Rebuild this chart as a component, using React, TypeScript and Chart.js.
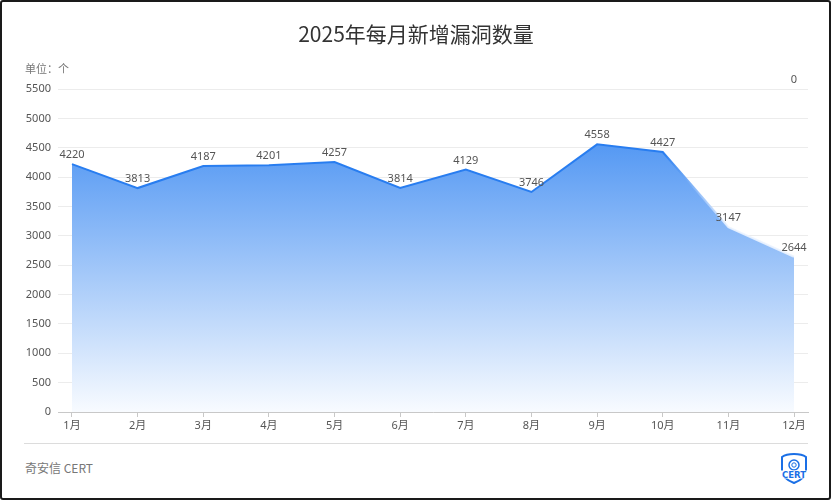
import React, { useEffect, useRef } from "react";
import { Chart, registerables } from "chart.js";

Chart.register(...registerables);

const months = ["1月", "2月", "3月", "4月", "5月", "6月", "7月", "8月", "9月", "10月", "11月", "12月"];
const counts = [4220, 3813, 4187, 4201, 4257, 3814, 4129, 3746, 4558, 4427, 3147, 2644];
const yMax = 5500;
const yStep = 500;
const extraLabel = "0";

const FONT = '"Noto Sans CJK SC", "Noto Sans", sans-serif';
const NUMFONT = '"Noto Sans", "Noto Sans CJK SC", sans-serif';

const labelPlugin = {
  id: "valueLabels",
  afterDatasetsDraw(chart: any) {
    const ctx = chart.ctx;
    const meta = chart.getDatasetMeta(0);
    ctx.save();
    ctx.font = `11px ${NUMFONT}`;
    ctx.fillStyle = "#555";
    ctx.textAlign = "center";
    ctx.textBaseline = "middle";
    meta.data.forEach((p: any, i: number) => {
      ctx.fillText(String(counts[i]), p.x, p.y - 9);
    });
    const xs = chart.scales.x;
    ctx.fillText(extraLabel, xs.getPixelForValue(months.length - 1), chart.chartArea.top - 9);
    ctx.restore();
  },
};

export default function App() {
  const ref = useRef<HTMLCanvasElement | null>(null);
  useEffect(() => {
    if (!ref.current) return;
    const chart = new Chart(ref.current, {
      type: "line",
      data: {
        datasets: [
          {
            data: counts.map((v, i) => ({ x: i, y: v })),
            borderColor: (c: any) => {
              const { chart } = c;
              const area = chart.chartArea;
              const xs = chart.scales.x;
              if (!area || !xs) return "#3584f0";
              const x0 = xs.getPixelForValue(9);
              const x1 = xs.getPixelForValue(10);
              const g = chart.ctx.createLinearGradient(x0, 0, x1, 0);
              g.addColorStop(0, "rgba(40,125,240,1)");
              g.addColorStop(1, "rgba(235,243,255,0.9)");
              return g;
            },
            borderWidth: 2,
            pointRadius: 0,
            tension: 0,
            fill: "start",
            backgroundColor: (c: any) => {
              const { chart } = c;
              const area = chart.chartArea;
              if (!area) return "rgba(80,150,242,0.6)";
              const g = chart.ctx.createLinearGradient(0, 140, 0, area.bottom);
              g.addColorStop(0, "rgb(82,151,243)");
              g.addColorStop(1, "rgb(248,251,255)");
              return g;
            },
          },
        ],
      },
      options: {
        responsive: false,
        animation: false,
        layout: { padding: { left: 0, top: 89, right: 24, bottom: 0 } },
        plugins: { legend: { display: false }, tooltip: { enabled: false }, title: { display: false } },
        scales: {
          x: {
            type: "linear",
            min: -0.213,
            max: months.length - 1 + 0.213,
            afterBuildTicks: (s: any) => {
              s.ticks = months.map((_, i) => ({ value: i }));
            },
            afterFit: (s: any) => {
              s.height = 28;
            },
            ticks: {
              autoSkip: false,
              maxRotation: 0,
              padding: 2,
              color: "#555",
              font: { family: NUMFONT, size: 11 },
              callback: (v: any) => months[v] ?? "",
            },
            grid: { drawOnChartArea: false, drawTicks: true, tickLength: 5, color: "#c8c8c8" },
            border: { display: true, color: "#c8c8c8", width: 1 },
          },
          y: {
            min: 0,
            max: yMax,
            afterFit: (s: any) => {
              s.width = 58;
            },
            ticks: {
              stepSize: yStep,
              padding: 7,
              color: "#555",
              font: { family: NUMFONT, size: 11 },
              callback: (v: any) => String(v),
            },
            grid: { color: "#ececec", drawTicks: false },
            border: { display: false },
          },
        },
      },
      plugins: [labelPlugin],
    } as any);
    return () => chart.destroy();
  }, []);

  return (
    <div>
      <canvas
        ref={ref}
        width={832}
        height={440}
        style={{ position: "absolute", left: 0, top: 0, width: 832, height: 440 }}
      />
      <div
        style={{
          position: "absolute",
          left: 0,
          top: 15,
          width: 832,
          textAlign: "center",
          fontFamily: FONT,
          fontSize: 21,
          color: "#333",
          lineHeight: "36px",
        }}
      >
        2025年每月新增漏洞数量
      </div>
      <div
        style={{
          position: "absolute",
          left: 25,
          top: 59,
          fontFamily: FONT,
          fontSize: 11,
          color: "#777",
          lineHeight: "18px",
        }}
      >
        单位：个
      </div>
      <div style={{ position: "absolute", left: 24, top: 443, width: 784, height: 1, background: "#dcdcdc" }} />
      <div
        style={{
          position: "absolute",
          left: 25,
          top: 459,
          fontFamily: FONT,
          fontSize: 12,
          color: "#777",
          lineHeight: "18px",
        }}
      >
        奇安信 CERT
      </div>
      <svg
        style={{ position: "absolute", left: 778, top: 452 }}
        width={32}
        height={33}
        viewBox="0 0 32 33"
      >
        <path
          d="M16 2 C10 2 6 3.5 4 5 L4 20 C4 25 10 28.5 16 31 C22 28.5 28 25 28 20 L28 5 C26 3.5 22 2 16 2 Z"
          fill="none"
          stroke="#1a6fe6"
          strokeWidth={2}
        />
        <circle cx={16} cy={13} r={5} fill="none" stroke="#1a6fe6" strokeWidth={1.5} />
        <circle cx={16} cy={13} r={2.2} fill="none" stroke="#1a6fe6" strokeWidth={1} />
        <rect x={1} y={18.5} width={30} height={8} fill="#fff" />
        <text
          x={16}
          y={25.5}
          textAnchor="middle"
          fontFamily="DejaVu Sans, sans-serif"
          fontWeight="bold"
          fontSize={8.5}
          fill="#1a6fe6"
        >
          CERT
        </text>
      </svg>
      <div
        style={{
          position: "absolute",
          left: 0,
          top: 0,
          width: 831,
          height: 500,
          boxSizing: "border-box",
          border: "2px solid #1a1a1a",
          borderRadius: 3,
          pointerEvents: "none",
        }}
      />
    </div>
  );
}
